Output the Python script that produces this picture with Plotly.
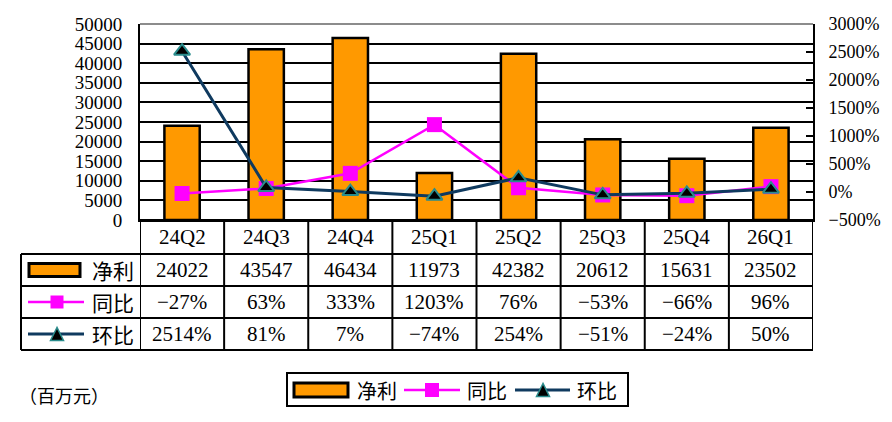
import plotly.graph_objects as go

# ---------------- data ----------------
quarters = ["24Q2", "24Q3", "24Q4", "25Q1", "25Q2", "25Q3", "25Q4", "26Q1"]
net_profit = [24022, 43547, 46434, 11973, 42382, 20612, 15631, 23502]
yoy_pct = [-27, 63, 333, 1203, 76, -53, -66, 96]
qoq_pct = [2514, 81, 7, -74, 254, -51, -24, 50]
series_names = ["净利", "同比", "环比"]
unit_label = "（百万元）"

# ---------------- layout constants (window pixels) ----------------
W, H = 892, 422
def px(x):
    return x / W
def py(y):
    return 1 - y / H

L, R, T, B = 140, 813, 24, 220
row_edges = [220, 254, 286, 318, 350]
label_left = 21

ORANGE = "#FF9900"
MAGENTA = "#FF00FF"
NAVY = "#0F3A5F"
TEAL = "#2A8C8C"
FONT = "Liberation Serif, Noto Sans CJK SC, serif"
CJK = "Noto Sans CJK SC, sans-serif"

def pct(v):
    return f"{v}%".replace("-", "\u2212")

fig = go.Figure()
fig.add_bar(
    x=quarters, y=net_profit, name=series_names[0], yaxis="y",
    marker=dict(color=ORANGE, line=dict(color="black", width=2.5)),
)
fig.add_scatter(
    x=quarters, y=yoy_pct, name=series_names[1], yaxis="y2", mode="lines+markers",
    line=dict(color=MAGENTA, width=2.5),
    marker=dict(symbol="square", size=15, color=MAGENTA),
)
fig.add_scatter(
    x=quarters, y=qoq_pct, name=series_names[2], yaxis="y2", mode="lines+markers",
    line=dict(color=NAVY, width=3),
    marker=dict(symbol="triangle-up", size=14, color="black", line=dict(color=TEAL, width=2)),
)

shapes = []
annotations = []
n = len(quarters)

# gray top border of plot area
shapes.append(dict(type="line", xref="paper", yref="paper", x0=px(L), x1=px(R),
                   y0=py(T), y1=py(T), line=dict(color="#8C8C8C", width=2), layer="above"))

# ---- data table ----
for k, ry in enumerate(row_edges):
    x0 = px(L) if k == 0 else px(label_left)
    shapes.append(dict(type="line", xref="paper", yref="paper", x0=x0, x1=px(R),
                       y0=py(ry), y1=py(ry), line=dict(color="black", width=2)))
for i in range(n + 1):
    shapes.append(dict(type="line", xref="x", yref="paper", x0=i - 0.5, x1=i - 0.5,
                       y0=py(row_edges[0]), y1=py(row_edges[-1]), line=dict(color="black", width=2)))
shapes.append(dict(type="line", xref="paper", yref="paper", x0=px(label_left), x1=px(label_left),
                   y0=py(row_edges[1]), y1=py(row_edges[-1]), line=dict(color="black", width=2)))

row_centers = [(row_edges[k] + row_edges[k + 1]) / 2 for k in range(4)]
rows_text = [quarters,
             [str(v) for v in net_profit],
             [pct(v) for v in yoy_pct],
             [pct(v) for v in qoq_pct]]
for r, texts in enumerate(rows_text):
    for i, t in enumerate(texts):
        annotations.append(dict(x=i, xref="x", y=py(row_centers[r]), yref="paper", text=t,
                                showarrow=False, xanchor="center", yanchor="middle",
                                font=dict(family=FONT, size=21, color="black")))

def key_bar(x0, x1, yc, h):
    shapes.append(dict(type="rect", xref="paper", yref="paper", x0=px(x0), x1=px(x1),
                       y0=py(yc - h / 2), y1=py(yc + h / 2), fillcolor=ORANGE,
                       line=dict(color="black", width=3)))

def key_line(x0, x1, yc, color, width):
    shapes.append(dict(type="line", xref="paper", yref="paper", x0=px(x0), x1=px(x1),
                       y0=py(yc), y1=py(yc), line=dict(color=color, width=width)))

def key_square(xc, yc, s):
    shapes.append(dict(type="rect", xref="paper", yref="paper", x0=px(xc - s / 2), x1=px(xc + s / 2),
                       y0=py(yc - s / 2), y1=py(yc + s / 2), fillcolor=MAGENTA,
                       line=dict(color=MAGENTA, width=0)))

def key_triangle(xc, yc, s):
    path = (f"M {px(xc)} {py(yc - s / 2)} L {px(xc - s / 2)} {py(yc + s / 2)} "
            f"L {px(xc + s / 2)} {py(yc + s / 2)} Z")
    shapes.append(dict(type="path", xref="paper", yref="paper", path=path, fillcolor="black",
                       line=dict(color=TEAL, width=1.5)))

def label(text, xc, yc, size=20, family=CJK):
    annotations.append(dict(x=px(xc), xref="paper", y=py(yc), yref="paper", text=text,
                            showarrow=False, xanchor="center", yanchor="middle",
                            font=dict(family=family, size=size, color="black")))

key_bar(29, 80, row_centers[1], 13)
key_line(28, 84, row_centers[2], MAGENTA, 2.5)
key_square(57, row_centers[2], 13)
key_line(28, 84, row_centers[3], NAVY, 3)
key_triangle(57, row_centers[3], 13)
for r in range(3):
    label(series_names[r], 113, row_centers[r + 1], size=21)

# bottom legend box
leg_y = 390
shapes.append(dict(type="rect", xref="paper", yref="paper", x0=px(287), x1=px(628),
                   y0=py(373), y1=py(406), line=dict(color="black", width=2), fillcolor="white"))
key_bar(294, 348, leg_y, 14)
label(series_names[0], 377, leg_y)
key_line(404, 460, leg_y, MAGENTA, 2.5)
key_square(432, leg_y, 14)
label(series_names[1], 487, leg_y)
key_line(515, 570, leg_y, NAVY, 3)
key_triangle(543, leg_y, 13)
label(series_names[2], 597, leg_y)

label(unit_label, 64, 395, size=18)

fig.update_layout(
    width=W, height=H,
    margin=dict(l=0, r=0, t=0, b=0),
    paper_bgcolor="white", plot_bgcolor="white",
    showlegend=False,
    bargap=0.58,
    font=dict(family=FONT, color="black"),
    xaxis=dict(domain=[px(L), px(R)], type="category", range=[-0.5, n - 0.5],
               showticklabels=False, ticks="", showgrid=False, zeroline=False,
               showline=True, linecolor="black", linewidth=2, automargin=False, fixedrange=True),
    yaxis=dict(domain=[py(B), py(T)], range=[0, 50000], tick0=0, dtick=5000, tickformat="d",
               showgrid=True, gridcolor="black", gridwidth=2, zeroline=False,
               showline=True, linecolor="black", linewidth=2,
               ticks="inside", ticklen=8, tickwidth=2, tickcolor="black",
               ticklabelstandoff=12,
               tickfont=dict(family=FONT, size=19, color="black"), automargin=False, fixedrange=True),
    yaxis2=dict(overlaying="y", side="right", anchor="x", range=[-500, 3000], tick0=-500, dtick=500,
                ticksuffix="%", showgrid=False, zeroline=False,
                showline=True, linecolor="black", linewidth=2,
                ticks="inside", ticklen=7, tickwidth=2, tickcolor="black",
                ticklabelstandoff=10,
                tickfont=dict(family=FONT, size=18, color="black"), automargin=False, fixedrange=True),
    shapes=shapes,
    annotations=annotations,
)

fig.write_html(
    "out.html",
    config={"displayModeBar": False},
    post_script="document.body.style.margin='0px';document.body.style.overflow='hidden';",
)
